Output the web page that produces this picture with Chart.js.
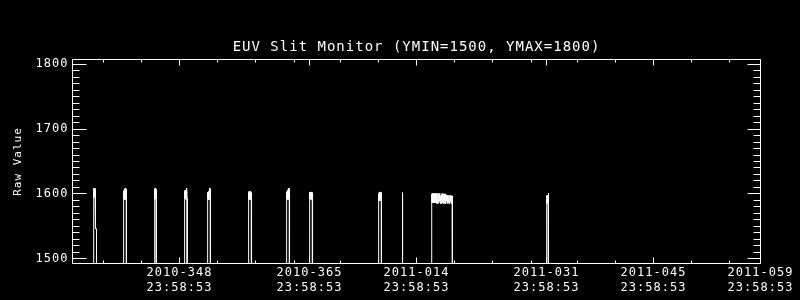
<!DOCTYPE html>
<html lang="en">
  <head>
    <meta charset="UTF-8" />
    <title>EUV Slit Monitor</title>
    <script src="https://cdn.jsdelivr.net/npm/chart.js@4.4.1/dist/chart.umd.min.js"></script>
    <style>
      body { margin: 0; background: #000; }
      canvas { display: block; }
    </style>
  </head>
  <body>
    <canvas id="slitChart" width="800" height="300"></canvas>

    <script>
      // x is day count from 2010-001 (2011-001 = 366), ticks sit at 23:58:53
      const xMin = 334;
      const xMax = 424;
      const majorTickDays = [348, 365, 379, 396, 410, 424];
      const minorTickDays = [338, 343, 353, 358, 363, 369, 374, 384, 389, 394, 400, 405, 415, 420];
      const xTickLabels = [
        ["2010-348", "23:58:53"],
        ["2010-365", "23:58:53"],
        ["2011-014", "23:58:53"],
        ["2011-031", "23:58:53"],
        ["2011-045", "23:58:53"],
        ["2011-059", "23:58:53"],
      ];

      const yMin = 1492.5;
      const yMax = 1807.5;
      const yTickValues = [1500, 1600, 1700, 1800];

      // raw slit readings, 0 = no data (drops below the plot)
      const slitDay = [
        336.75, 336.75, 336.80, 336.84, 336.88, 336.92, 336.96, 337.00, 337.01, 337.01, 337.14, 337.14,
        340.67, 340.67, 340.71, 340.75, 340.79, 340.83, 340.87, 340.91, 340.95, 340.99, 341.03, 341.06, 341.06,
        344.73, 344.73, 344.77, 344.81, 344.85, 344.89, 344.93, 344.96, 344.99, 344.99,
        348.65, 348.65, 348.69, 348.73, 348.77, 348.81, 348.85, 348.89, 348.93, 348.97, 349.00, 349.00,
        351.66, 351.66, 351.70, 351.74, 351.78, 351.82, 351.86, 351.90, 351.94, 351.98, 352.02, 352.05, 352.05,
        357.02, 357.02, 357.06, 357.10, 357.14, 357.18, 357.22, 357.26, 357.30, 357.34, 357.38, 357.42, 357.42,
        361.99, 361.99, 362.03, 362.07, 362.11, 362.15, 362.19, 362.23, 362.27, 362.31, 362.35, 362.39, 362.39,
        365.00, 365.00, 365.04, 365.08, 365.12, 365.16, 365.20, 365.24, 365.28, 365.32, 365.36, 365.40, 365.40,
        374.03, 374.03, 374.07, 374.11, 374.15, 374.19, 374.23, 374.27, 374.31, 374.35, 374.39, 374.42, 374.42,
        377.17, 377.17, 377.18,
        380.96, 380.96, 381.02, 381.08, 381.14, 381.20, 381.26, 381.32, 381.38, 381.44, 381.50, 381.56,
        381.62, 381.68, 381.74, 381.80, 381.86, 381.92, 381.98, 382.04, 382.10, 382.16, 382.22, 382.28,
        382.34, 382.40, 382.46, 382.52, 382.58, 382.64, 382.70, 382.76, 382.82, 382.88, 382.94, 383.00,
        383.06, 383.12, 383.18, 383.24, 383.30, 383.36, 383.42, 383.48, 383.54, 383.60, 383.66, 383.71, 383.71,
        396.01, 396.01, 396.05, 396.09, 396.13, 396.17, 396.21, 396.27, 396.27,
      ];
      const slitRaw = [
        0, 1608, 1594, 1609, 1595, 1607, 1594, 1608, 1594, 1546, 1546, 0,
        0, 1605, 1592, 1604, 1591, 1608, 1592, 1609, 1591, 1608, 1592, 1607, 0,
        0, 1608, 1591, 1609, 1592, 1608, 1591, 1607, 1592, 0,
        0, 1605, 1594, 1604, 1592, 1606, 1591, 1608, 1591, 1609, 1592, 0,
        0, 1602, 1592, 1603, 1591, 1604, 1592, 1608, 1591, 1609, 1592, 1608, 0,
        0, 1602, 1592, 1604, 1591, 1603, 1592, 1604, 1591, 1603, 1592, 1602, 0,
        0, 1603, 1592, 1604, 1591, 1605, 1592, 1608, 1591, 1609, 1592, 1608, 0,
        0, 1602, 1591, 1603, 1592, 1602, 1591, 1603, 1592, 1602, 1591, 1602, 0,
        0, 1600, 1590, 1602, 1589, 1603, 1590, 1602, 1589, 1603, 1590, 1602, 0,
        0, 1602, 0,
        0, 1600, 1587, 1601, 1586, 1600, 1587, 1601, 1586, 1600, 1587, 1601,
        1585, 1597, 1585, 1601, 1586, 1600, 1589, 1601, 1585, 1597, 1585, 1600,
        1586, 1601, 1589, 1600, 1585, 1599, 1586, 1600, 1585, 1598, 1589, 1598,
        1585, 1597, 1586, 1598, 1585, 1597, 1589, 1598, 1585, 1597, 1586, 1597, 0,
        0, 1597, 1586, 1598, 1585, 1597, 1586, 1601, 0,
      ];

      const FONT = "'DejaVu Sans Mono', 'Liberation Mono', monospace";

      // IDL style: wider letters
      const spacing = {
        id: "spacing",
        beforeUpdate(chart) { chart.ctx.letterSpacing = "1px"; },
        beforeDraw(chart) { chart.ctx.letterSpacing = "1px"; },
      };

      // closed box with inward ticks on all four sides
      const boxAxes = {
        id: "boxAxes",
        afterDraw(chart) {
          const { ctx, chartArea: a, scales: { x, y } } = chart;
          const crisp = (p) => Math.floor(p) + 0.5;
          ctx.save();
          ctx.strokeStyle = "#fff";
          ctx.lineWidth = 1;
          ctx.beginPath();
          ctx.rect(a.left, a.top, a.right - a.left, a.bottom - a.top);

          const xTick = (d, len) => {
            const px = crisp(x.getPixelForValue(d));
            ctx.moveTo(px, a.bottom);
            ctx.lineTo(px, a.bottom - len);
            ctx.moveTo(px, a.top);
            ctx.lineTo(px, a.top + len);
          };
          minorTickDays.forEach((d) => xTick(d, 3));
          majorTickDays.forEach((d) => xTick(d, 6));

          for (let v = yTickValues[0]; v <= yTickValues[yTickValues.length - 1]; v += 10) {
            const major = yTickValues.includes(v);
            const py = crisp(y.getPixelForValue(v));
            ctx.moveTo(a.left, py);
            ctx.lineTo(a.left + (major ? 14 : 7), py);
            ctx.moveTo(a.right, py);
            ctx.lineTo(a.right - (major ? 13 : 7), py);
          }
          ctx.stroke();
          ctx.restore();
        },
      };

      new Chart(document.getElementById("slitChart"), {
        type: "line",
        data: {
          datasets: [
            {
              data: slitDay.map((d, i) => ({ x: d, y: slitRaw[i] })),
              borderColor: "#fff",
              borderWidth: 1,
              pointRadius: 0,
              tension: 0,
            },
          ],
        },
        options: {
          responsive: false,
          animation: false,
          layout: { padding: { left: 0, right: 39.5, top: 0, bottom: 0 } },
          plugins: {
            legend: { display: false },
            tooltip: { enabled: false },
            title: {
              display: true,
              fullSize: false,
              text: "EUV Slit Monitor (YMIN=1500, YMAX=1800)",
              color: "#fff",
              font: { family: FONT, size: 14, weight: "normal", lineHeight: 1.2 },
              padding: { top: 39, bottom: 3.7 },
            },
          },
          scales: {
            x: {
              type: "linear",
              min: xMin,
              max: xMax,
              grid: { display: false, drawTicks: false },
              border: { display: false },
              afterBuildTicks: (scale) => {
                scale.ticks = majorTickDays.map((v) => ({ value: v }));
              },
              afterFit: (scale) => { scale.height = 36.5; },
              ticks: {
                color: "#fff",
                autoSkip: false,
                maxRotation: 0,
                padding: 2.3,
                font: { family: FONT, size: 12, lineHeight: 1.25 },
                callback: (value, index) => xTickLabels[index],
              },
            },
            y: {
              min: yMin,
              max: yMax,
              grid: { display: false, drawTicks: false },
              border: { display: false },
              afterBuildTicks: (scale) => {
                scale.ticks = yTickValues.map((v) => ({ value: v }));
              },
              afterFit: (scale) => { scale.width = 72.5; },
              ticks: {
                color: "#fff",
                padding: 4,
                font: { family: FONT, size: 12 },
                callback: (value) => String(value),
              },
              title: {
                display: true,
                text: "Raw Value",
                color: "#fff",
                font: { family: FONT, size: 11, lineHeight: 1.2 },
                padding: { top: 11.4, bottom: 0 },
              },
            },
          },
        },
        plugins: [spacing, boxAxes],
      });
    </script>
  </body>
</html>
